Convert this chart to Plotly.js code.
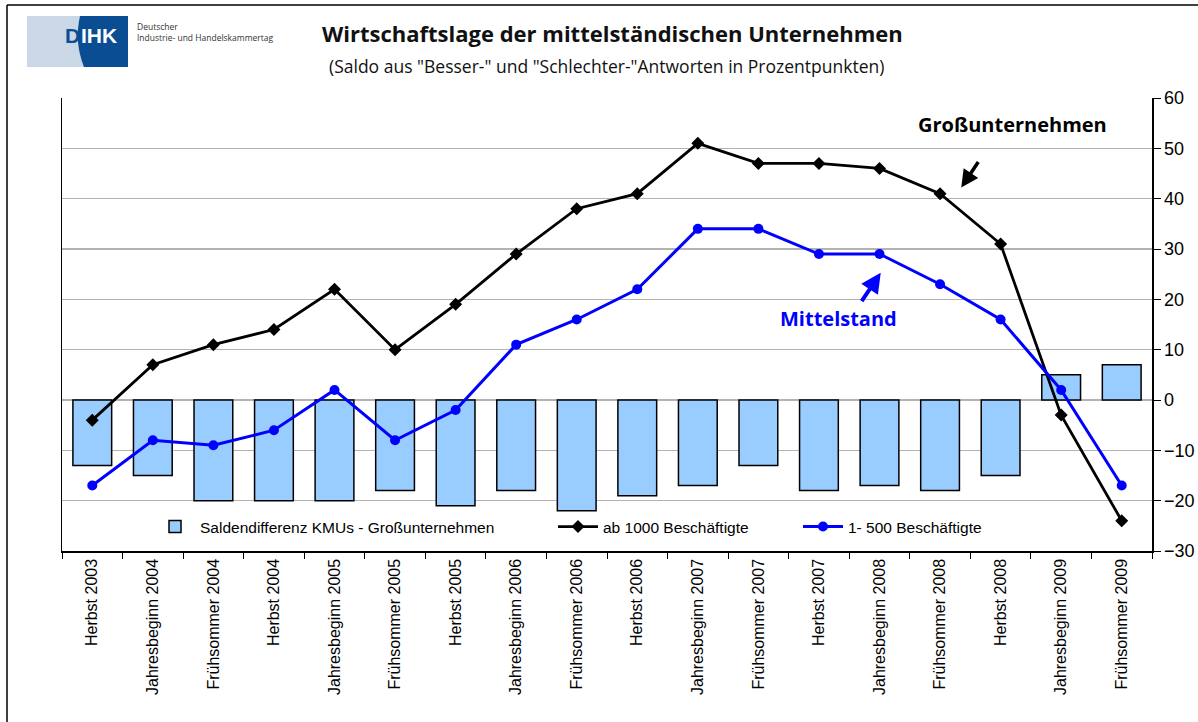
<!DOCTYPE html>
<html>
<head>
<meta charset="utf-8">
<script src="https://cdn.plot.ly/plotly-3.0.1.min.js"></script>
<style>html,body{margin:0;padding:0;background:#fff;}#chart{width:1198px;height:722px;}</style>
</head>
<body>
<div id="chart"></div>
<script>
// ---- data ----
const categories = ["Herbst 2003","Jahresbeginn 2004","Frühsommer 2004","Herbst 2004","Jahresbeginn 2005","Frühsommer 2005","Herbst 2005","Jahresbeginn 2006","Frühsommer 2006","Herbst 2006","Jahresbeginn 2007","Frühsommer 2007","Herbst 2007","Jahresbeginn 2008","Frühsommer 2008","Herbst 2008","Jahresbeginn 2009","Frühsommer 2009"];
const saldendifferenz = [-13,-15,-20,-20,-20,-18,-21,-18,-22,-19,-17,-13,-18,-17,-18,-15,5,7];
const ab1000 = [-4,7,11,14,22,10,19,29,38,41,51,47,47,46,41,31,-3,-24];
const bis500 = [-17,-8,-9,-6,2,-8,-2,11,16,22,34,34,29,29,23,16,2,-17];
const yTicks = [-30,-20,-10,0,10,20,30,40,50,60];

// ---- layout helpers (pixel -> paper) ----
const L = 62, R = 1152, T = 98, B = 551;
const px = x => (x - L) / (R - L);
const py = y => (B - y) / (B - T);

const traces = [
  {type:'bar', x:categories, y:saldendifferenz, name:'Saldendifferenz KMUs - Großunternehmen',
   marker:{color:'#99ccff', line:{color:'#000000', width:1.5}}, legend:'legend'},
  {type:'scatter', mode:'lines+markers', x:categories, y:ab1000, name:'ab 1000 Beschäftigte',
   line:{color:'#000000', width:2.8}, marker:{symbol:'diamond', size:10, color:'#000000'}, legend:'legend2'},
  {type:'scatter', mode:'lines+markers', x:categories, y:bis500, name:'1- 500 Beschäftigte',
   line:{color:'#0000ff', width:3}, marker:{symbol:'circle', size:10, color:'#0000ff'}, legend:'legend3'}
];

const legendBase = {orientation:'h', yanchor:'middle', xanchor:'left', bgcolor:'rgba(0,0,0,0)',
  font:{family:'Liberation Sans, Arial', size:15.5, color:'#000'}, itemwidth:40, tracegroupgap:0};

const layout = {
  width:1198, height:722,
  margin:{l:L, r:1198-R, t:T, b:722-B, pad:0},
  paper_bgcolor:'#ffffff', plot_bgcolor:'#ffffff',
  bargap:0.36,
  showlegend:true,
  legend: Object.assign({}, legendBase, {x:px(150), y:py(527)}),
  legend2: Object.assign({}, legendBase, {x:px(553), y:py(527)}),
  legend3: Object.assign({}, legendBase, {x:px(798), y:py(527)}),
  xaxis:{type:'category', range:[-0.5,17.5], tickangle:-90, ticks:'outside', tickson:'boundaries',
    ticklen:6, tickcolor:'#000', showline:true, linecolor:'#000', linewidth:1.5, showgrid:false,
    tickfont:{family:'Liberation Sans, Arial', size:16, color:'#000'}, fixedrange:true},
  yaxis:{side:'right', range:[-30,60], tickvals:yTicks, ticks:'outside', ticklen:7, tickcolor:'#000',
    showline:true, linecolor:'#000', linewidth:1.5, mirror:true, showgrid:true, gridcolor:'#b3b3b3', gridwidth:1.2,
    zeroline:false, tickfont:{family:'Liberation Sans, Arial', size:18, color:'#000'}, fixedrange:true},
  shapes:[
    // outer frame
    {type:'line', xref:'paper', yref:'paper', x0:px(7), x1:px(7), y0:py(5), y1:py(740), line:{color:'#000', width:1.5}},
    {type:'line', xref:'paper', yref:'paper', x0:px(7), x1:px(1198), y0:py(5), y1:py(5), line:{color:'#000', width:1.5}},
    // logo light part
    {type:'rect', xref:'paper', yref:'paper', x0:px(27), x1:px(128), y0:py(16), y1:py(67), fillcolor:'#c9d7e6', line:{width:0}, layer:'below'},
    // logo dark part
    {type:'path', xref:'paper', yref:'paper', layer:'below', fillcolor:'#0b4d93', line:{width:0},
     path:`M ${px(80)},${py(16)} Q ${px(74)},${py(42)} ${px(84)},${py(67)} L ${px(128)},${py(67)} L ${px(128)},${py(16)} Z`}
  ],
  annotations:[
    {xref:'paper', yref:'paper', x:px(613), y:py(33), text:'<b>Wirtschaftslage der mittelständischen Unternehmen</b>', showarrow:false,
     font:{family:'Open Sans, sans-serif', size:22, color:'#111'}, xanchor:'center', yanchor:'middle'},
    {xref:'paper', yref:'paper', x:px(606), y:py(66), text:'(Saldo aus "Besser-" und "Schlechter-"Antworten in Prozentpunkten)', showarrow:false,
     font:{family:'Open Sans, sans-serif', size:17.5, color:'#111'}, xanchor:'center', yanchor:'middle'},
    {xref:'paper', yref:'paper', x:px(79.5), y:py(36), text:"<b>D</b>", showarrow:false,
     font:{family:'Liberation Sans, Arial', size:21, color:'#0b4d93'}, xanchor:'right', yanchor:'middle', xshift:2},
    {xref:'paper', yref:'paper', x:px(80.5), y:py(36), text:"<b>IHK</b>", showarrow:false,
     font:{family:'Liberation Sans, Arial', size:21, color:'#ffffff'}, xanchor:'left', yanchor:'middle', xshift:-2},
    {xref:'paper', yref:'paper', x:px(135), y:py(32), text:'Deutscher<br>Industrie- und Handelskammertag', showarrow:false, align:'left',
     font:{family:'Open Sans, sans-serif', size:8.5, color:'#333'}, xanchor:'left', yanchor:'middle'},
    {x:15.19, y:54.7, xref:'x', yref:'y', text:'<b>Großunternehmen</b>', showarrow:false,
     font:{family:'Open Sans, sans-serif', size:20, color:'#000'}},
    {x:12.32, y:16.2, xref:'x', yref:'y', text:'<b>Mittelstand</b>', showarrow:false,
     font:{family:'Open Sans, sans-serif', size:20, color:'#0000ff'}},
    {x:14.35, y:42.2, xref:'x', yref:'y', text:'', showarrow:true, ax:18, ay:-27, arrowhead:2, arrowsize:1, arrowwidth:3.5, arrowcolor:'#000'},
    {x:13.02, y:25.3, xref:'x', yref:'y', text:'', showarrow:true, ax:-20, ay:30, arrowhead:2, arrowsize:1, arrowwidth:4, arrowcolor:'#0000ff'}
  ],
  hovermode:false
};

Plotly.newPlot('chart', traces, layout, {staticPlot:true, displayModeBar:false});
</script>
</body>
</html>
